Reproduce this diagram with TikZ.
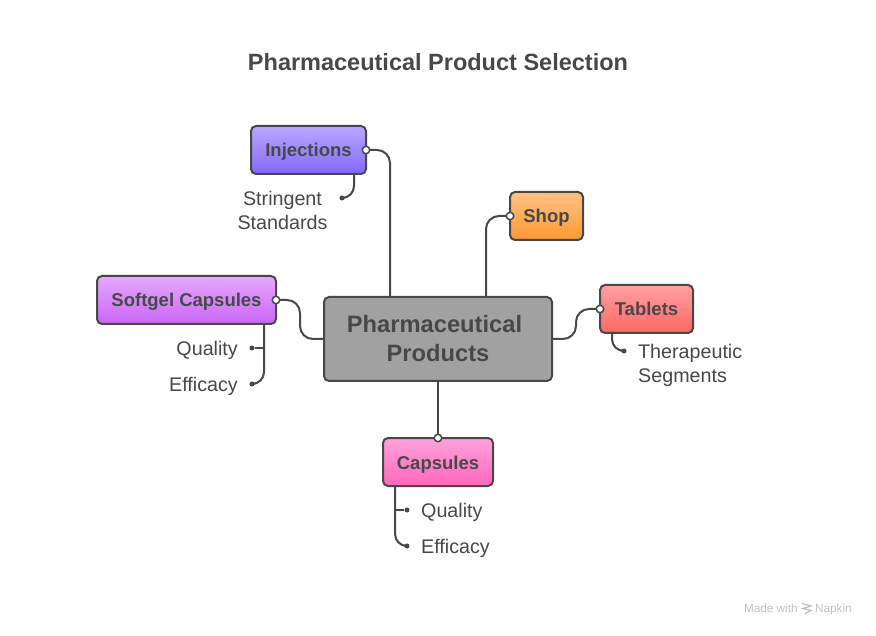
\documentclass[tikz,border=0pt]{standalone}
\usepackage{fontspec}
\setmainfont{Liberation Sans}
\definecolor{ink}{HTML}{484848}
\definecolor{violet1}{HTML}{B8A8FF}
\definecolor{violet2}{HTML}{8268FF}
\definecolor{orange1}{HTML}{FFC285}
\definecolor{orange2}{HTML}{FF9933}
\definecolor{purple1}{HTML}{E6A8FF}
\definecolor{purple2}{HTML}{C966F8}
\definecolor{red1}{HTML}{FFA0A0}
\definecolor{red2}{HTML}{FF6666}
\definecolor{pink1}{HTML}{FFA3DC}
\definecolor{pink2}{HTML}{FF66BB}
\begin{document}
\begin{tikzpicture}[x=1pt,y=-1pt,link/.style={draw=ink,line width=2pt,rounded corners=13pt},
                    main node/.style={rectangle,draw=ink,line width=2pt,rounded corners=5pt,inner sep=0pt,outer sep=0pt,minimum height=48pt,text height=14pt,text depth=0pt,text=ink,font=\fontsize{18.5}{22}\selectfont\bfseries},
                    leaf/.style={text=ink,font=\fontsize{19.7}{24}\selectfont,inner sep=0pt,text height=14.5pt,text depth=0pt,align=left},
                    foot/.style={text=black!25,font=\fontsize{11.7}{13}\selectfont,anchor=west,inner sep=0pt,text height=8.5pt,text depth=0pt},
                    open dot/.style={circle,draw=ink,fill=white,line width=1.5pt,inner sep=0pt,minimum size=7.5pt},
                    leaf dot/.style={circle,fill=ink,inner sep=0pt,minimum size=5pt}]
  \useasboundingbox (0,0) rectangle (876,636);

  \node[text=ink,font=\fontsize{23.5}{28}\selectfont\bfseries] (title) at (438,62) {Pharmaceutical Product Selection};

  \node[main node,fill=black!37,minimum width=228pt,minimum height=84pt,align=center,text height=,text depth=,
        font=\fontsize{23.7}{29}\selectfont\bfseries] (central) at (438,339) {Pharmaceutical\hspace*{7pt}\\Products};
  \node[main node,minimum width=115pt,top color=violet1,bottom color=violet2] (injections) at (308.5,150) {Injections};
  \node[main node,minimum width=73pt,top color=orange1,bottom color=orange2] (shop) at (546.5,216) {Shop};
  \node[main node,minimum width=179pt,top color=purple1,bottom color=purple2] (softgel) at (186.5,300) {Softgel Capsules};
  \node[main node,minimum width=93pt,top color=red1,bottom color=red2] (tablets) at (646.5,309) {Tablets};
  \node[main node,minimum width=110pt,top color=pink1,bottom color=pink2] (capsules) at (438,462) {Capsules};

  \node[leaf,align=center,text height=,text depth=] (stringent) at (282.5,210.5) {Stringent\\Standards};
  \node[leaf,anchor=east] (quality1) at (238,348) {Quality};
  \node[leaf,anchor=east] (efficacy1) at (238,384) {Efficacy};
  \node[leaf,anchor=west,text height=,text depth=] (therapeutic) at (638,365) {Therapeutic\\Segments};
  \node[leaf,anchor=west] (quality2) at (421,510) {Quality};
  \node[leaf,anchor=west] (efficacy2) at (421,546) {Efficacy};

  \node[leaf dot] (d0) at (342,198) {};
  \node[leaf dot] (d1) at (252,348) {};
  \node[leaf dot] (d2) at (252,384) {};
  \node[leaf dot] (d3) at (624,351) {};
  \node[leaf dot] (d4) at (407,510) {};
  \node[leaf dot] (d5) at (407,546) {};

  \coordinate (a0) at (390,297);
  \coordinate (a1) at (486,297);
  \coordinate (s0) at (354,174);
  \coordinate (s1) at (264,324);
  \coordinate (s2) at (612,333);
  \coordinate (s3) at (395,486);

  % links to the middle box
  \draw[link] (injections.east) -| (a0);
  \draw[link] (shop.west) -| (a1);
  \draw[link] (softgel.east) -- (300,300) -- (300,339) -- (central.west);
  \draw[link] (central.east) -- (576,339) -- (576,309) -- (tablets.west);
  \draw[link] (central.south) -- (capsules.north);

  % links to the leaves
  \draw[link,rounded corners=12pt] (s0) |- (d0);
  \draw[link,rounded corners=12pt] (s1) |- (d2);
  \draw[link] (s1 |- d1) -- (d1);
  \draw[link,rounded corners=12pt] (s2) |- (d3);
  \draw[link,rounded corners=12pt] (s3) |- (d5);
  \draw[link] (s3 |- d4) -- (d4);

  \node[open dot] (o0) at (injections.east) {};
  \node[open dot] (o1) at (shop.west) {};
  \node[open dot] (o2) at (softgel.east) {};
  \node[open dot] (o3) at (tablets.west) {};
  \node[open dot] (o4) at (capsules.north) {};

  % footer
  \node[foot] (made) at (744,608.5) {Made with};
  \node[foot] (napkin) at (815,608.5) {Napkin};
  \draw[black!25,line width=1.2pt] (802,603.5) -- (811,606) -- (803,608.5) -- (811,610.5) -- (805,613.5);
\end{tikzpicture}
\end{document}
